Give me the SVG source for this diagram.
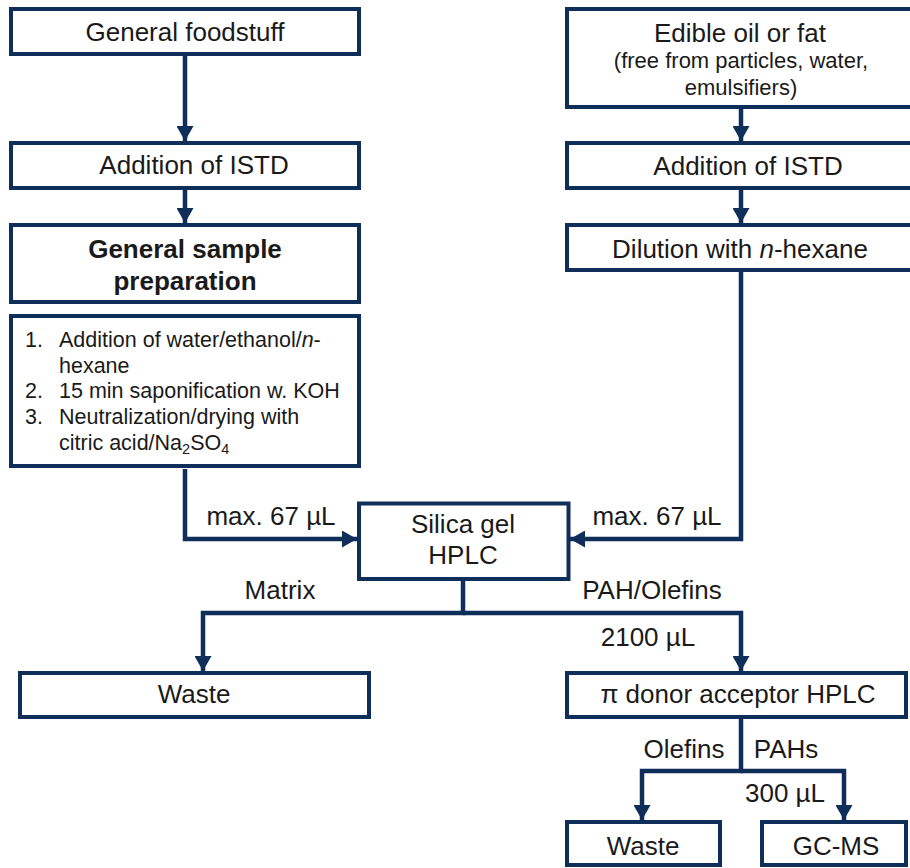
<svg xmlns="http://www.w3.org/2000/svg" width="910" height="868" viewBox="0 0 910 868">
<style>
.box{fill:#fff;stroke:#0f2e5a;stroke-width:4}
.ln{fill:none;stroke:#0f2e5a;stroke-width:4.5}
.t{font-family:"Liberation Sans",Arial,sans-serif;font-size:26px;fill:#1a1a1a;text-anchor:middle}
.b{font-weight:bold}
.s{font-family:"Liberation Sans",Arial,sans-serif;font-size:21.5px;fill:#1a1a1a}
.m{font-family:"Liberation Sans",Arial,sans-serif;font-size:22px;fill:#1a1a1a;text-anchor:middle}
</style>
<defs>
<marker id="ah" markerUnits="userSpaceOnUse" markerWidth="16" markerHeight="17" viewBox="0 0 15 17" refX="15" refY="8.5" orient="auto">
<path d="M0,0 L15,8.5 L0,17 z" fill="#0f2e5a"/>
</marker>
</defs>
<g id="connectors">
<line class="ln" x1="185" y1="56" x2="185" y2="141" marker-end="url(#ah)"/>
<line class="ln" x1="185" y1="190" x2="185" y2="223" marker-end="url(#ah)"/>
<polyline class="ln" points="185,469 185,539 357,539" marker-end="url(#ah)"/>
<line class="ln" x1="741" y1="109" x2="741" y2="141" marker-end="url(#ah)"/>
<line class="ln" x1="741" y1="190" x2="741" y2="223" marker-end="url(#ah)"/>
<polyline class="ln" points="741,272 741,539 570,539" marker-end="url(#ah)"/>
<polyline class="ln" points="463,581 463,613 203,613 203,671" marker-end="url(#ah)"/>
<polyline class="ln" points="463,613 741,613 741,671" marker-end="url(#ah)"/>
<polyline class="ln" points="741,719 741,771 642,771 642,820" marker-end="url(#ah)"/>
<polyline class="ln" points="741,771 844,771 844,820" marker-end="url(#ah)"/>
<text class="t" x="271" y="525">max. 67 µL</text>
<text class="t" x="657" y="525">max. 67 µL</text>
<text class="t" x="280" y="599">Matrix</text>
<text class="t" x="652" y="599">PAH/Olefins</text>
<text class="t" x="648" y="646">2100 µL</text>
<text class="t" x="684" y="758">Olefins</text>
<text class="t" x="786" y="758">PAHs</text>
<text class="t" x="785" y="802">300 µL</text>
</g>
<g id="general-foodstuff">
<rect class="box" x="11" y="9" width="348" height="45"/>
<text class="t" x="185" y="41">General foodstuff</text>
</g>
<g id="istd-left">
<rect class="box" x="11" y="143" width="348" height="45"/>
<text class="t" x="194" y="174">Addition of ISTD</text>
</g>
<g id="sample-prep">
<rect class="box" x="11" y="225" width="348" height="77"/>
<text class="t b" x="185" y="258">General sample</text>
<text class="t b" x="185" y="290">preparation</text>
</g>
<g id="prep-steps">
<rect class="box" x="11" y="316" width="348" height="150"/>
<text class="s" x="25" y="347">1.</text>
<text class="s" x="59" y="347">Addition of water/ethanol/<tspan font-style="italic">n</tspan>-</text>
<text class="s" x="59" y="372.5">hexane</text>
<text class="s" x="25" y="398">2.</text>
<text class="s" x="59" y="398">15 min saponification w. KOH</text>
<text class="s" x="25" y="424">3.</text>
<text class="s" x="59" y="424">Neutralization/drying with</text>
<text class="s" x="59" y="450">citric acid/Na<tspan font-size="14.5" dy="4">2</tspan><tspan dy="-4">SO</tspan><tspan font-size="14.5" dy="4">4</tspan></text>
</g>
<g id="edible-oil">
<rect class="box" x="567" y="9" width="346" height="98"/>
<text class="t" x="740" y="42">Edible oil or fat</text>
<text class="m" x="741" y="68">(free from particles, water,</text>
<text class="m" x="741" y="95">emulsifiers)</text>
</g>
<g id="istd-right">
<rect class="box" x="567" y="143" width="346" height="45"/>
<text class="t" x="748" y="175">Addition of ISTD</text>
</g>
<g id="dilution">
<rect class="box" x="567" y="225" width="346" height="45"/>
<text class="t" x="740" y="258">Dilution with <tspan font-style="italic">n</tspan>-hexane</text>
</g>
<g id="silica-hplc">
<rect class="box" x="359" y="503.5" width="209.5" height="75.5"/>
<text class="t" x="463" y="533">Silica gel</text>
<text class="t" x="463" y="564">HPLC</text>
</g>
<g id="waste-1">
<rect class="box" x="20" y="673" width="349" height="44"/>
<text class="t" x="194" y="703">Waste</text>
</g>
<g id="pi-hplc">
<rect class="box" x="567" y="673" width="339" height="44"/>
<text class="t" x="738" y="703">π donor acceptor HPLC</text>
</g>
<g id="waste-2">
<rect class="box" x="567" y="822" width="153" height="43"/>
<text class="t" x="643" y="855">Waste</text>
</g>
<g id="gc-ms">
<rect class="box" x="762" y="822" width="144" height="43"/>
<text class="t" x="836" y="855">GC-MS</text>
</g>
</svg>
